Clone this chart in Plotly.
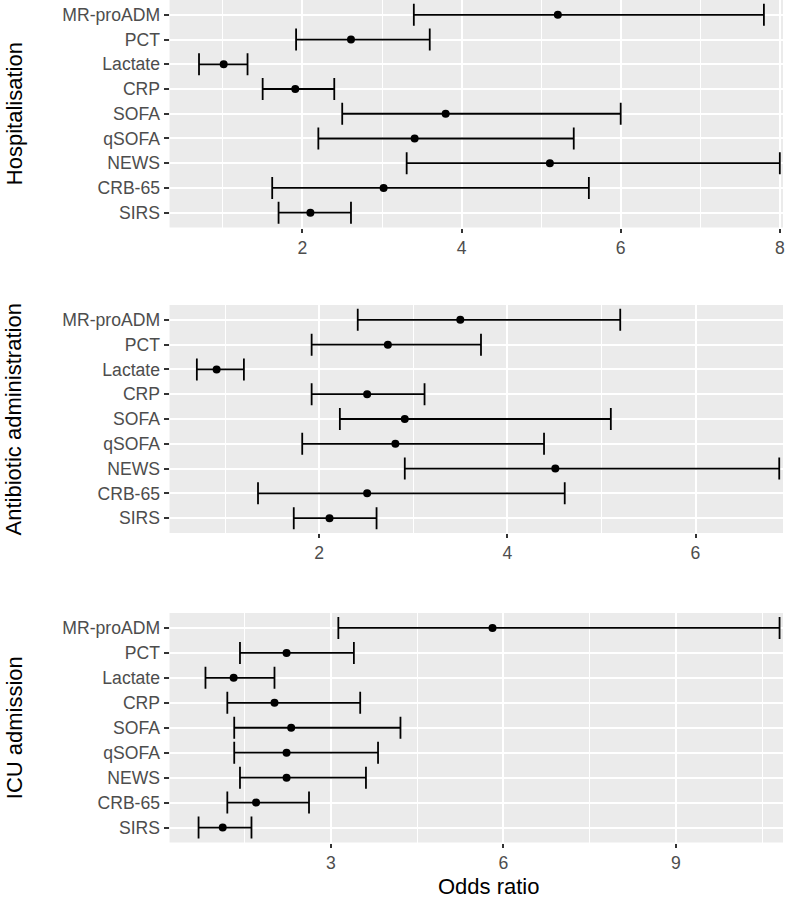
import plotly.graph_objects as go

markers = ["MR-proADM", "PCT", "Lactate", "CRP", "SOFA", "qSOFA", "NEWS", "CRB-65", "SIRS"]

hosp_or = [5.21, 2.61, 1.01, 1.91, 3.80, 3.41, 5.11, 3.02, 2.10]
hosp_lo = [3.40, 1.92, 0.70, 1.50, 2.50, 2.20, 3.31, 1.62, 1.70]
hosp_hi = [7.80, 3.60, 1.31, 2.40, 6.00, 5.41, 8.00, 5.60, 2.61]

abx_or = [3.50, 2.73, 0.91, 2.51, 2.91, 2.81, 4.51, 2.51, 2.11]
abx_lo = [2.41, 1.92, 0.70, 1.92, 2.22, 1.82, 2.91, 1.35, 1.73]
abx_hi = [5.20, 3.72, 1.20, 3.12, 5.10, 4.39, 6.89, 4.61, 2.61]

icu_or = [5.81, 2.23, 1.31, 2.02, 2.31, 2.23, 2.23, 1.70, 1.12]
icu_lo = [3.13, 1.42, 0.82, 1.20, 1.32, 1.32, 1.42, 1.20, 0.70]
icu_hi = [10.80, 3.40, 2.02, 3.51, 4.21, 3.82, 3.61, 2.62, 1.62]

panel_titles = ["Hospitalisation", "Antibiotic administration", "ICU admission"]
x_title = "Odds ratio"

W, H = 787, 898
panels = [
    dict(orv=hosp_or, lo=hosp_lo, hi=hosp_hi, top=0, bot=227.5, xr=[0.33, 8.04], dtick=2, mdtick=1),
    dict(orv=abx_or, lo=abx_lo, hi=abx_hi, top=305, bot=533, xr=[0.41, 6.93], dtick=2, mdtick=1),
    dict(orv=icu_or, lo=icu_lo, hi=icu_hi, top=613, bot=842.5, xr=[0.196, 10.86], dtick=3, mdtick=1.5),
]

fig = go.Figure()
FONT = "Liberation Sans, Arial, sans-serif"
layout = dict(
    width=W, height=H,
    margin=dict(l=0, r=0, t=0, b=0),
    paper_bgcolor="white", plot_bgcolor="#EBEBEB",
    showlegend=False,
    font=dict(family=FONT, size=17.6, color="#4D4D4D"),
    annotations=[],
)

for i, p in enumerate(panels):
    n = "" if i == 0 else str(i + 1)
    plus = [h - o for h, o in zip(p["hi"], p["orv"])]
    minus = [o - l for o, l in zip(p["orv"], p["lo"])]
    fig.add_trace(go.Scatter(
        x=p["orv"], y=markers, mode="markers",
        marker=dict(color="black", size=8),
        error_x=dict(type="data", symmetric=False, array=plus, arrayminus=minus,
                     color="black", thickness=1.8, width=11),
        xaxis="x" + n, yaxis="y" + n, cliponaxis=False,
    ))
    layout["xaxis" + n] = dict(
        domain=[170 / W, 785 / W], anchor="y" + n, range=p["xr"],
        tick0=0, dtick=p["dtick"], ticks="outside", ticklen=4, tickwidth=1.5,
        tickcolor="#333333", showgrid=True, gridcolor="white", gridwidth=2,
        zeroline=False, showline=False,
        tickfont=dict(size=17.6, color="#4D4D4D", family=FONT),
        minor=dict(dtick=p["mdtick"], tick0=0, showgrid=True, gridcolor="white",
                   gridwidth=1, ticks=""),
    )
    layout["yaxis" + n] = dict(
        domain=[1 - p["bot"] / H, 1 - p["top"] / H], anchor="x" + n,
        type="category", categoryorder="array", categoryarray=markers[::-1],
        range=[-0.6, 8.6], ticks="outside", ticklen=5, tickwidth=1.5,
        tickcolor="#333333", showgrid=True, gridcolor="white", gridwidth=2,
        zeroline=False, showline=False,
        tickfont=dict(size=17.6, color="#4D4D4D", family=FONT),
    )
    layout["annotations"].append(dict(
        text=panel_titles[i], textangle=-90, xref="paper", yref="paper",
        x=14.5 / W, y=1 - (p["top"] + p["bot"]) / 2 / H,
        xanchor="center", yanchor="middle", showarrow=False,
        font=dict(size=22, color="black", family=FONT),
    ))

layout["annotations"].append(dict(
    text=x_title, xref="paper", yref="paper", x=490 / W, y=1 - 886 / H,
    xanchor="center", yanchor="middle", showarrow=False,
    font=dict(size=22, color="black", family=FONT),
))

fig.update_layout(**layout)
fig.write_html(
    "out.html",
    config={"displayModeBar": False},
    post_script="document.body.style.margin='0px';document.body.style.overflow='hidden';",
)
